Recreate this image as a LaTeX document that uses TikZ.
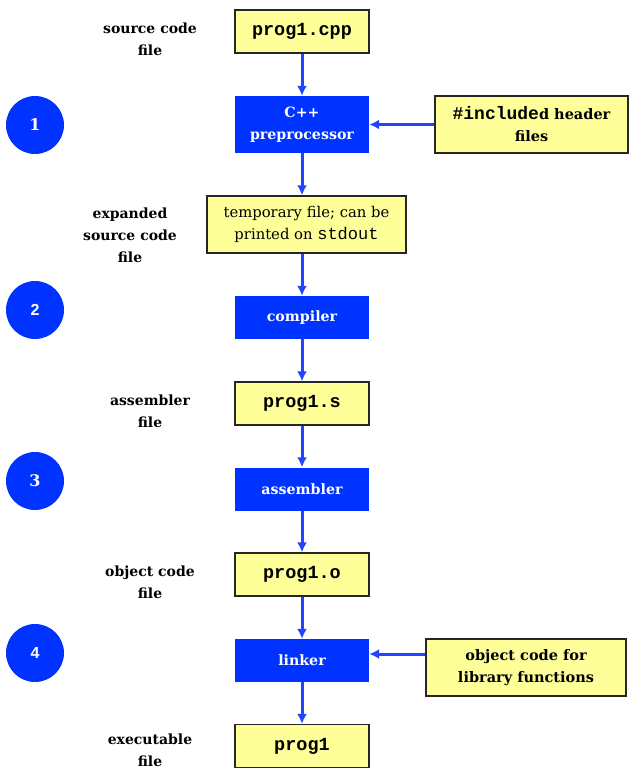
\documentclass[tikz,border=0pt]{standalone}
\usepackage{fontspec}
\setmainfont{DejaVu Serif}
\setmonofont{Liberation Mono}
\setsansfont{Liberation Sans}
\usetikzlibrary{arrows.meta}
\definecolor{boxblue}{HTML}{0033FF}
\definecolor{arrblue}{HTML}{2244FF}
\definecolor{paleyellow}{HTML}{FFFF99}
\tikzset{
  filebox/.style={draw=black!85, line width=1.3pt, fill=paleyellow, inner sep=0pt,
    minimum width=134pt, minimum height=43pt, align=center,
    font=\fontsize{18.5}{22}\selectfont\ttfamily\bfseries},
  notebox/.style={draw=black!85, line width=1.3pt, fill=paleyellow, inner sep=0pt,
    minimum height=57pt, align=center, font=\fontsize{14.5}{22}\selectfont\bfseries},
  procbox/.style={fill=boxblue, text=white, inner sep=0pt, minimum width=134pt,
    minimum height=43pt, align=center, font=\fontsize{14.2}{22}\selectfont\bfseries},
  sidelabel/.style={align=center, inner sep=0pt, font=\fontsize{14}{22}\selectfont\bfseries},
  stepcirc/.style={circle, fill=boxblue, text=white, inner sep=0pt, minimum size=58pt,
    font=\fontsize{16}{18}\selectfont\bfseries},
  arr/.style={draw=arrblue, line width=3pt, -{Latex[length=10pt,width=10pt]}}
}
\begin{document}
\begin{tikzpicture}[x=1pt,y=-1pt]
\useasboundingbox (0,0) rectangle (629,770);
% main column
\node[filebox] (cpp) at (302,31.5) {prog1.cpp};
\node[procbox, minimum height=57pt] (prep) at (302,124.5) {C++\\preprocessor};
\node[notebox, minimum width=199pt, font=\fontsize{14.8}{22}\selectfont] (tmp) at (306.5,224.5)
  {temporary file; can be\\printed on {\ttfamily\fontsize{17}{22}\selectfont stdout}};
\node[procbox] (comp) at (302,317.5) {compiler};
\node[filebox] (asmf) at (302,403.5) {prog1.s};
\node[procbox] (asmb) at (302,489) {assembler};
\node[filebox] (obj) at (302,574.5) {prog1.o};
\node[procbox] (link) at (302,660.5) {linker};
\node[filebox] (exe) at (302,746) {prog1};
% side boxes
\node[notebox, minimum width=193pt] (hdr) at (531.5,124.5)
  {{\ttfamily\fontsize{18}{22}\selectfont\#include}d header\\files};
\node[notebox, minimum width=200pt] (lib) at (526,667.5) {object code for\\library functions};
% labels
\node[sidelabel] (l1) at (150,39) {source code\\file};
\node[sidelabel] (l2) at (130,235) {expanded\\source code\\file};
\node[sidelabel] (l3) at (150,411) {assembler\\file};
\node[sidelabel] (l4) at (150,582) {object code\\file};
\node[sidelabel] (l5) at (150,750) {executable\\file};
% circles
\node[stepcirc] (c1) at (35,125) {1};
\node[stepcirc, font=\fontsize{16}{18}\selectfont\sffamily\bfseries] (c2) at (35,310) {2};
\node[stepcirc] (c3) at (35,481) {3};
\node[stepcirc, font=\fontsize{16}{18}\selectfont\sffamily\bfseries] (c4) at (35,653) {4};
% arrows
\draw[arr] (cpp.south) -- (prep.north);
\draw[arr] (prep.south) -- (prep.south |- tmp.north);
\draw[arr] (tmp.south -| comp.north) -- (comp.north);
\draw[arr] (comp.south) -- (asmf.north);
\draw[arr] (asmf.south) -- (asmb.north);
\draw[arr] (asmb.south) -- (obj.north);
\draw[arr] (obj.south) -- (link.north);
\draw[arr] (link.south) -- (exe.north);
\draw[arr] (hdr.west) -- (prep.east);
\coordinate (libin) at ([yshift=13.5pt]lib.west);
\draw[arr] (libin) -- (libin -| link.east);
\end{tikzpicture}
\end{document}
